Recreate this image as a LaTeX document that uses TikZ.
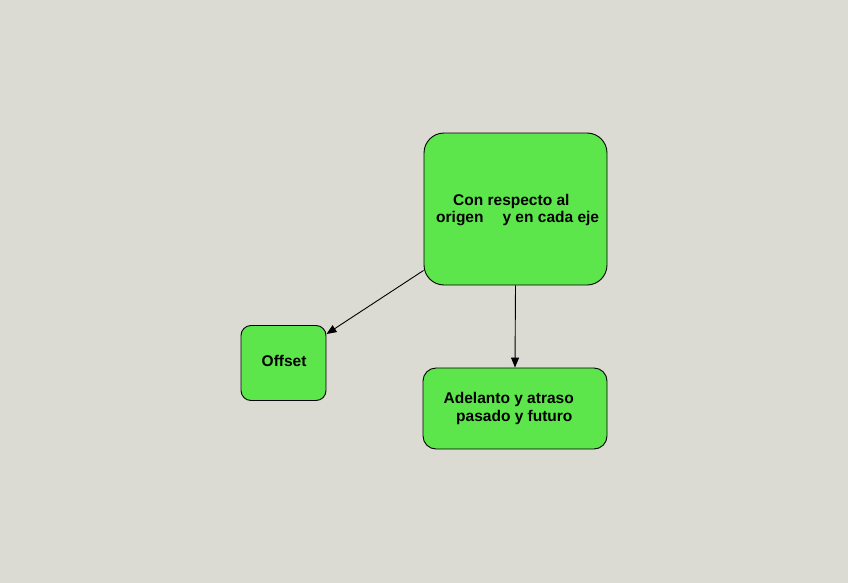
\documentclass[tikz,border=0pt]{standalone}
\usepackage{fontspec}
\setmainfont{Liberation Sans}
\usetikzlibrary{arrows.meta,calc}
\definecolor{bg}{RGB}{220,219,211}
\definecolor{boxgreen}{RGB}{92,230,75}
\tikzset{
 box/.style={draw=black, line width=0.9pt, fill=boxgreen, inner sep=0pt},
 txt/.style={inner sep=0pt, anchor=base west, font=\bfseries\fontsize{15.5}{18}\selectfont},
 conn/.style={draw=black, line width=0.9pt, -{Triangle[length=10pt,width=8pt]}},
}
\begin{document}
\begin{tikzpicture}[x=1pt,y=-1pt]
\fill[bg] (0,0) rectangle (848,583);
\useasboundingbox (0,0) rectangle (848,583);
\node[box, rounded corners=20pt, minimum width=183pt, minimum height=152pt] (top) at (515.5,209) {};
\node[box, rounded corners=10pt, minimum width=85pt, minimum height=75pt] (off) at (283.5,363) {};
\node[box, rounded corners=13pt, minimum width=184pt, minimum height=81pt] (bot) at (515,408.5) {};
\node[txt] (t1) at (453,205.5) {Con respecto al};
\node[txt] (t2) at (436,222) {origen\hspace{19pt}y en cada eje};
\node[txt] (o1) at (261.5,366.5) {Offset};
\node[txt] (b1) at (443.5,403.3) {Adelanto y atraso};
\node[txt] (b2) at (456,421.7) {pasado y futuro};
\coordinate (s1) at ($(top.south west)+(0,-15)$);
\coordinate (e1) at ($(off.north east)+(0,9)$);
\draw[conn] (s1) -- (e1);
\draw[conn] (top.south) -- (bot.north);
\end{tikzpicture}
\end{document}
